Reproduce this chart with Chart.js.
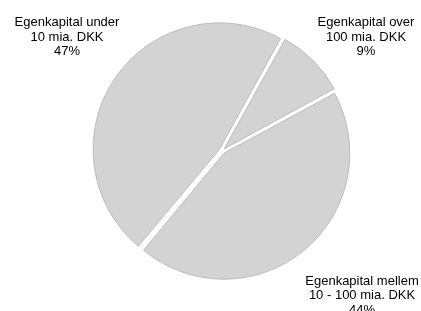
<!DOCTYPE html>
<html>

<head>
    <meta charset="utf-8">
    <script src="https://cdn.jsdelivr.net/npm/chart.js@4.4.0/dist/chart.umd.min.js"></script>
    <style>
        body {
            margin: 0;
            background: #fff;
        }

        .wrap {
            width: 421px;
            height: 311px;
        }
    </style>
</head>

<body>
    <div class="wrap"><canvas id="pie-Chart"></canvas></div>
    <script>
        // Data
        var categories = ["Egenkapital over 100 mia. DKK", "Egenkapital mellem 10 - 100 mia. DKK", "Egenkapital under 10 mia. DKK"];
        var shares = [9, 44, 47];
        var labelLines = [
            ["Egenkapital over", "100 mia. DKK", "9%"],
            ["Egenkapital mellem", "10 - 100 mia. DKK", "44%"],
            ["Egenkapital under", "10 mia. DKK", "47%"]
        ];

        // where each text block sits (centre x, first line y)
        var labelSpots = [[366, 22.5], [362, 281], [67, 22.5]];

        const outsideLabels = {
            id: 'outsideLabels',
            afterDraw(chart) {
                const ctx = chart.ctx;
                ctx.save();
                ctx.font = '13px "Liberation Sans", Arial, sans-serif';
                ctx.fillStyle = '#000';
                ctx.textAlign = 'center';
                ctx.textBaseline = 'middle';
                labelLines.forEach((lines, i) => {
                    lines.forEach((t, j) => {
                        ctx.fillText(t, labelSpots[i][0], labelSpots[i][1] + j * 14.7);
                    });
                });
                ctx.restore();
            }
        };

        // chart.js v4 moves an arc by offset/4 px
        new Chart(document.getElementById('pie-Chart'), {
            type: 'pie',
            data: {
                labels: categories,
                datasets: [{
                    data: shares,
                    backgroundColor: '#d3d3d3',
                    borderColor: '#bcbcbc',
                    borderWidth: 1,
                    offset: 12
                }]
            },
            options: {
                responsive: true,
                maintainAspectRatio: false,
                animation: false,
                rotation: 29,
                layout: { padding: { top: 20.5, bottom: 29.5, left: 23, right: 0 } },
                plugins: {
                    legend: { display: false },
                    tooltip: { enabled: false }
                }
            },
            plugins: [outsideLabels]
        });
    </script>
</body>

</html>
